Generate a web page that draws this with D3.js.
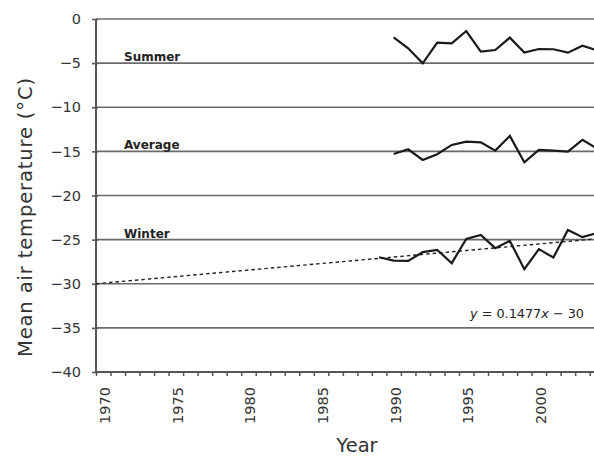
<!DOCTYPE html>
<html><head><meta charset="utf-8">
<script src="https://cdn.jsdelivr.net/npm/d3@7"></script>
<style>
html,body{margin:0;padding:0;background:#fff;}
svg{display:block;font-family:"DejaVu Sans",Verdana,sans-serif;}
</style></head>
<body>
<svg id="chart" width="594" height="458"></svg>
<script>
const summerYears = [1990,1991,1992,1993,1994,1995,1996,1997,1998,1999,2000,2001,2002,2003,2004];
const summerValues = [-2.07,-3.32,-5.02,-2.68,-2.76,-1.36,-3.70,-3.51,-2.11,-3.81,-3.40,-3.43,-3.81,-3.02,-3.54];
const averageYears = [1990,1991,1992,1993,1994,1995,1996,1997,1998,1999,2000,2001,2002,2003,2004];
const averageValues = [-15.29,-14.76,-15.97,-15.33,-14.27,-13.89,-13.97,-14.91,-13.25,-16.23,-14.84,-14.91,-15.02,-13.70,-14.67];
const winterYears = [1989,1990,1991,1992,1993,1994,1995,1996,1997,1998,1999,2000,2001,2002,2003,2004];
const winterValues = [-27.0,-27.37,-27.41,-26.42,-26.16,-27.67,-24.92,-24.46,-25.97,-25.14,-28.35,-26.08,-27.03,-23.90,-24.72,-24.25];
const trendSlope = 0.1477;
const trendIntercept = -30;
const trendLabel = "= 0.1477";
const yTicks = [0,-5,-10,-15,-20,-25,-30,-35,-40];
const xTickLabels = [1970,1975,1980,1985,1990,1995,2000];
const seriesLabels = ["Summer","Average","Winter"];
const seriesLabelValues = [-5,-15,-25];

const svg = d3.select("#chart");
const mLeft = 96, mTop = 19, mBottom = 372, catW = 14.52;
const x = d3.scaleLinear().domain([1969.5, 2004.5]).range([mLeft, mLeft + 35*catW]);
const y = d3.scaleLinear().domain([-40, 0]).range([mBottom, mTop]);
const W = 594;

// gridlines
svg.append("g").selectAll("line").data(yTicks.filter(d => d > -40)).join("line")
  .attr("x1", mLeft).attr("x2", W).attr("y1", d => y(d)).attr("y2", d => y(d))
  .attr("stroke", "#6a6a6a").attr("stroke-width", 1.6);

// y axis
const yAxis = d3.axisLeft(y).tickValues(yTicks).tickSize(4).tickPadding(11)
  .tickFormat(d => d === 0 ? "0" : "\u2212" + Math.abs(d));
const gy = svg.append("g").attr("transform", `translate(${mLeft},0)`).call(yAxis);
gy.select(".domain").attr("stroke", "#555").attr("stroke-width", 2).attr("d", `M0,${mTop}V${mBottom}`);
gy.selectAll(".tick line").attr("stroke", "#555").attr("stroke-width", 1.6).attr("x2", -4).attr("x1", 2);
gy.selectAll(".tick text").attr("font-size", 14.5).attr("fill", "#333").attr("font-family", "DejaVu Sans");

// x axis
const xAxis = d3.axisBottom(x).tickValues(d3.range(1969.5, 2005, 1)).tickSize(4).tickFormat("");
const gx = svg.append("g").attr("transform", `translate(0,${mBottom})`).call(xAxis);
gx.select(".domain").attr("stroke", "#555").attr("stroke-width", 2).attr("d", `M${mLeft},0H${W}`);
gx.selectAll(".tick line").attr("stroke", "#555").attr("stroke-width", 1.5).attr("y1", -1);

// x tick labels (centered in category)
svg.append("g").selectAll("text").data(xTickLabels).join("text")
  .attr("transform", d => `translate(${x(d) + 7},${mBottom + 15}) rotate(-90)`)
  .attr("text-anchor", "end").attr("font-size", 14.5).attr("fill", "#333")
  .text(d => d);

// trend line
svg.append("line")
  .attr("x1", x(1969.5)).attr("y1", y(trendIntercept))
  .attr("x2", x(2004.5)).attr("y2", y(trendIntercept + trendSlope*35))
  .attr("stroke", "#222").attr("stroke-width", 1.4).attr("stroke-dasharray", "3.5,3");

const line = d3.line().x(d => x(d[0])).y(d => y(d[1]));
[[summerYears, summerValues],[averageYears, averageValues],[winterYears, winterValues]].forEach(([ys, vs]) => {
  svg.append("path").datum(ys.map((yr,i) => [yr, vs[i]]))
    .attr("d", line).attr("fill", "none").attr("stroke", "#1a1a1a").attr("stroke-width", 2.2)
    .attr("stroke-linejoin", "miter");
});

// series labels
svg.append("g").selectAll("text").data(seriesLabels).join("text")
  .attr("x", 124).attr("y", (d,i) => y(seriesLabelValues[i]) - 2)
  .attr("font-size", 12).attr("font-weight", "bold").attr("fill", "#222")
  .text(d => d);

// equation
const eq = svg.append("text").attr("x", 584).attr("y", 318).attr("text-anchor", "end")
  .attr("font-size", 12.8).attr("fill", "#222");
eq.append("tspan").attr("font-style", "italic").text("y");
eq.append("tspan").text(" " + trendLabel);
eq.append("tspan").attr("font-style", "italic").text("x");
eq.append("tspan").text(" \u2212 30");

// axis titles
svg.append("text").attr("x", 357).attr("y", 452).attr("text-anchor", "middle")
  .attr("font-size", 19.5).attr("fill", "#333").text("Year");
svg.append("text").attr("transform", `translate(32,217.5) rotate(-90)`).attr("text-anchor", "middle")
  .attr("font-size", 19.5).attr("fill", "#333")
  .attr("textLength", 279).attr("lengthAdjust", "spacing")
  .text("Mean air temperature (\u00B0C)");
</script>
</body></html>
